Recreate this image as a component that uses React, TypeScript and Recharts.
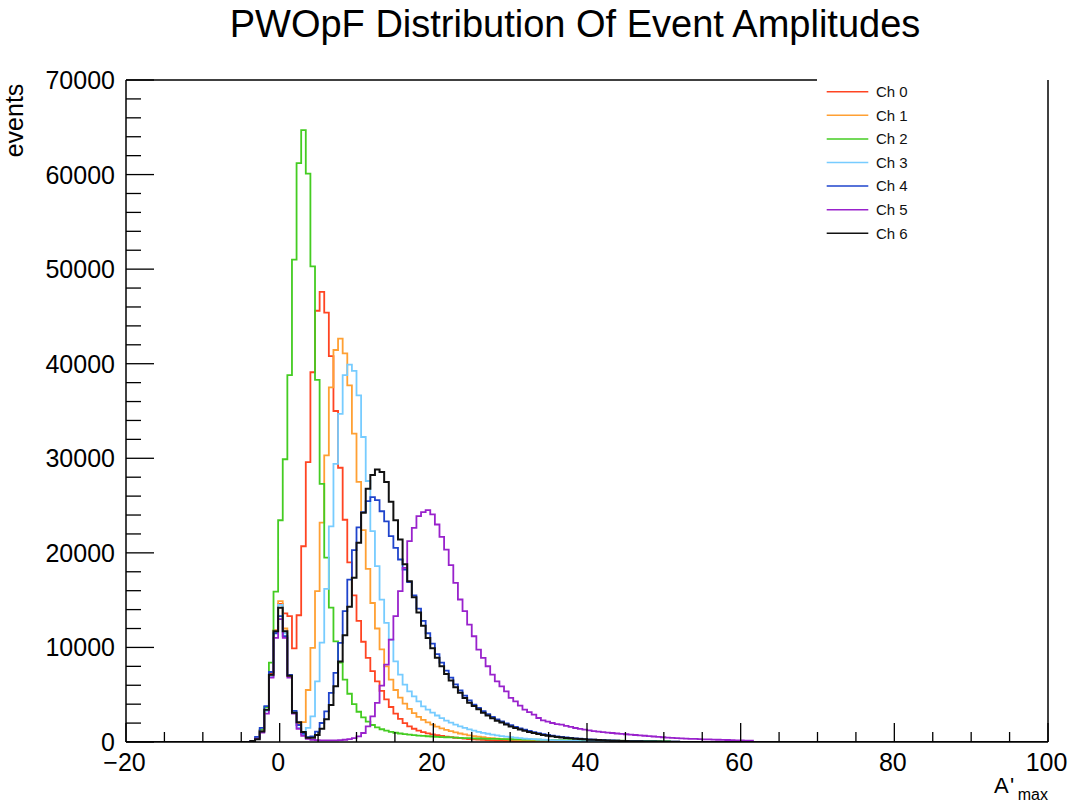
import { LineChart, Line, XAxis, YAxis } from 'recharts';

// histogram binning: 200 bins from -20 to 100
const xMin = -20;
const xMax = 100;
const binWidth = 0.6;
const nBins = 200;
// first bin that holds counts (left edge), the arrays below start there
const firstEdge = -3.8;

const channelNames = ['Ch 0', 'Ch 1', 'Ch 2', 'Ch 3', 'Ch 4', 'Ch 5', 'Ch 6'];
const channelColors = ['#ff4422', '#ffa033', '#44cc22', '#77ccff', '#1f44cc', '#9922cc', '#111111'];

const ch0Counts = [
  50, 350, 1200, 3400, 7200, 11800, 14600, 13600, 13300, 9900,
  13400, 20700, 29600, 39100, 45600, 47600, 45400, 40800, 35000, 29000,
  23500, 19000, 15500, 12800, 10600, 8900, 7500, 6400, 5400, 4500,
  3700, 3000, 2450, 2000, 1650, 1400, 1200, 1050, 920, 810,
  720, 640, 570, 505, 450, 400, 355, 315, 280, 250,
  222, 198, 176, 157, 140, 125, 111, 99, 88, 78,
  70, 62, 55, 49, 44, 39, 35, 31, 28, 25,
  22, 20, 18, 16, 14, 12, 11, 10, 9, 8,
];
const ch1Counts = [
  50, 400, 1200, 3400, 7000, 11800, 14900, 12000, 7000, 3100,
  2000, 2100, 5500, 9950, 15950, 23200, 30300, 37500, 41450, 42650,
  41100, 37700, 32600, 27500, 22400, 18300, 14700, 12000, 9800, 8000,
  6600, 5500, 4700, 4050, 3500, 3050, 2650, 2350, 2080, 1840,
  1630, 1450, 1290, 1150, 1020, 900, 800, 710, 630, 560,
  500, 445, 395, 350, 310, 275, 245, 220, 195, 175,
  155, 140, 125, 110, 100, 90, 80, 72, 64, 57,
  50, 45, 40, 36, 32, 28, 25, 22, 20, 18, 16,
];
const ch2Counts = [
  100, 450, 1300, 3700, 8400, 15900, 23450, 29900, 38800, 51000,
  61200, 64700, 60100, 50300, 38300, 27300, 19500, 14200, 10650, 8400,
  6600, 5100, 4000, 3200, 2600, 2150, 1800, 1550, 1350, 1200,
  1080, 980, 900, 830, 770, 720, 680, 640, 610, 580,
  550, 520, 500, 480, 460, 440, 420, 400, 385, 370,
  355, 340, 330, 320, 310, 300, 290, 280, 270, 262,
  254, 246, 238, 230, 222, 215, 208, 201, 194, 188,
  182, 176, 170, 165, 160, 155, 150, 145, 140, 136,
  132, 128, 124, 120, 116, 112, 108, 105, 102, 99, 96,
];
const ch3Counts = [
  60, 380, 1100, 3300, 6900, 11600, 14500, 11500, 7100, 3100,
  1500, 800, 1500, 2700, 6400, 10500, 16200, 22800, 29400, 34700,
  38800, 39900, 39250, 36650, 32250, 27600, 22300, 18600, 15060, 12600,
  10830, 8530, 7120, 6060, 5360, 4830, 4300, 3770, 3420, 3100,
  2800, 2520, 2270, 2040, 1840, 1660, 1490, 1340, 1200, 1080,
  970, 870, 780, 700, 630, 565, 505, 455, 410, 365,
  330, 295, 265, 240, 215, 195, 175, 155, 140, 125,
  112, 100, 90, 80, 72, 65, 58, 52, 46, 41, 37, 33,
];
const ch4Counts = [
  120, 550, 1500, 3800, 7400, 11500, 13300, 11200, 7100, 3300,
  1800, 900, 500, 600, 1100, 2010, 3240, 5190, 7300, 10480,
  13830, 17180, 20280, 22700, 24300, 25470, 25890, 25570, 24400, 23320,
  21760, 20530, 19300, 18240, 16900, 15500, 14100, 12800, 11500, 10400,
  9300, 8400, 7550, 6800, 6100, 5450, 4900, 4400, 3950, 3600,
  3250, 2950, 2650, 2400, 2180, 1970, 1780, 1600, 1440, 1300,
  1170, 1050, 940, 840, 750, 670, 600, 535, 480, 430,
  385, 345, 310, 278, 250, 222, 198, 176, 158, 142,
  126, 112, 100, 88, 78, 69, 61, 54, 47, 41, 36, 31, 27,
];
const ch5Counts = [
  80, 350, 1000, 3000, 6800, 11000, 13000, 11000, 6800, 3000,
  1400, 650, 320, 230, 200, 180, 170, 170, 180, 200,
  240, 300, 420, 600, 950, 1660, 2720, 4130, 5960, 8190,
  10830, 13300, 15950, 18420, 21240, 22650, 23880, 24300, 24510, 24060,
  23000, 21700, 20350, 18700, 16830, 15070, 13830, 12420, 11180, 9770,
  8890, 8010, 7130, 6420, 5890, 5360, 4660, 4300, 3850, 3420,
  3150, 2890, 2540, 2290, 2150, 2010, 1900, 1835, 1700, 1590,
  1480, 1380, 1300, 1230, 1160, 1100, 1040, 990, 950, 900,
  860, 820, 780, 740, 700, 660, 620, 580, 540, 500,
  470, 440, 410, 385, 360, 340, 320, 300, 285, 270,
  255, 240, 225, 210, 195, 180, 165, 150, 135,
];
const ch6Counts = [
  100, 300, 1120, 3420, 7120, 11700, 14200, 11700, 7000, 3100,
  2100, 1050, 450, 450, 750, 1400, 2400, 3900, 5900, 8500,
  11300, 14300, 17360, 21060, 24240, 26780, 28220, 28820, 28540, 27480,
  25400, 23460, 21410, 18800, 17000, 15300, 13700, 12300, 11000, 9900,
  8900, 8000, 7200, 6500, 5800, 5200, 4650, 4150, 3800, 3450,
  3100, 2800, 2500, 2250, 2050, 1850, 1650, 1480, 1320, 1180,
  1050, 940, 840, 750, 670, 600, 540, 480, 430, 385,
  345, 310, 280, 250, 225, 200, 180, 160, 145, 130,
  115, 100, 90, 80, 70, 62, 55, 48, 42, 37, 32, 28, 24,
];

const channelCounts = [ch0Counts, ch1Counts, ch2Counts, ch3Counts, ch4Counts, ch5Counts, ch6Counts];

const xMajorTicks = [-20, 0, 20, 40, 60, 80, 100];
const xMinorStep = 5;
const yMajorTicks = [0, 10000, 20000, 30000, 40000, 50000, 60000, 70000];
const yMinorStep = 2000;

const xTicks: number[] = [];
for (let v = xMin; v <= xMax; v += xMinorStep) xTicks.push(v);
const yTicks: number[] = [];
for (let v = 0; v <= 70000; v += yMinorStep) yTicks.push(v);

// rows at every bin edge, drawn with stepAfter
const offset = Math.round((firstEdge - xMin) / binWidth);
const rows: any[] = [];
for (let i = 0; i <= nBins; i++) {
  const row: any = { x: Math.round((xMin + i * binWidth) * 10) / 10 };
  const bin = Math.min(i, nBins - 1) - offset;
  channelCounts.forEach((counts, c) => {
    row['ch' + c] = bin >= 0 && bin < counts.length ? counts[bin] : 0;
  });
  rows.push(row);
}

const FONT = '"Liberation Sans", Arial, Helvetica, sans-serif';
const W = 1073;
const H = 804;
const left = 126;
const right = 1048;
const top = 80;
const bottom = 742;

function XTick(props: any) {
  const { x, y, payload } = props;
  const v = payload.value as number;
  const major = xMajorTicks.includes(v);
  return (
    <g>
      <line x1={x} x2={x} y1={y} y2={y - (major ? 19 : 10)} stroke="#000" strokeWidth={1.3} />
      {major && (
        <text x={x - 1.5} y={y + 29} textAnchor="middle" fontSize={25} fontFamily={FONT} fill="#000">
          {v < 0 ? '\u2212' + Math.abs(v) : String(v)}
        </text>
      )}
    </g>
  );
}

function YTick(props: any) {
  const { x, y, payload } = props;
  const v = payload.value as number;
  const major = yMajorTicks.includes(v);
  return (
    <g>
      <line x1={x} x2={x + (major ? 28 : 15)} y1={y} y2={y} stroke="#000" strokeWidth={1.3} />
      {major && (
        <text x={x - 11} y={y + 9} textAnchor="end" fontSize={25} fontFamily={FONT} fill="#000">
          {String(v)}
        </text>
      )}
    </g>
  );
}

export default function App() {
  return (
    <div style={{ position: 'absolute', left: 0, top: 0, width: W, height: H, background: '#fff' }}>
      <LineChart width={W} height={H} data={rows} margin={{ top: top, right: W - right, bottom: 0, left: 0 }}>
        <XAxis
          dataKey="x"
          type="number"
          domain={[xMin, xMax]}
          ticks={xTicks}
          interval={0}
          height={H - bottom}
          tickSize={0}
          tickMargin={0}
          tick={<XTick />}
          axisLine={{ stroke: '#000', strokeWidth: 1.5 }}
          tickLine={false}
          allowDataOverflow
        />
        <YAxis
          type="number"
          domain={[0, 70000]}
          ticks={yTicks}
          interval={0}
          width={left}
          tickSize={0}
          tickMargin={0}
          tick={<YTick />}
          axisLine={{ stroke: '#000', strokeWidth: 1.5 }}
          tickLine={false}
          allowDataOverflow
        />
        {channelNames.map((name, c) => (
          <Line
            key={name}
            name={name}
            dataKey={'ch' + c}
            type="stepAfter"
            stroke={channelColors[c]}
            strokeWidth={c === 6 ? 2 : 1.8}
            dot={false}
            activeDot={false}
            isAnimationActive={false}
          />
        ))}
      </LineChart>
      <svg width={W} height={H} style={{ position: 'absolute', left: 0, top: 0, pointerEvents: 'none' }}>
        <line x1={left} x2={817} y1={top} y2={top} stroke="#000" strokeWidth={1.5} />
        <line x1={right} x2={right} y1={top} y2={bottom} stroke="#000" strokeWidth={1.5} />
        <text x={575} y={37} textAnchor="middle" fontSize={38} fontFamily={FONT} fill="#000">
          PWOpF Distribution Of Event Amplitudes
        </text>
        <text transform="translate(22.7,120.5) rotate(-90)" textAnchor="middle" fontSize={25} fontFamily={FONT} fill="#000">
          events
        </text>
        <text x={994} y={793} fontSize={22} fontFamily={FONT} fill="#000">A</text>
        <text x={1010} y={793} fontSize={22} fontFamily={FONT} fill="#000">'</text>
        <text x={right} y={800} textAnchor="end" fontSize={16} fontFamily={FONT} fill="#000">max</text>
        {channelNames.map((name, c) => {
          const ly = 91.7 + 23.6 * c;
          return (
            <g key={name}>
              <line x1={826.7} x2={868.3} y1={ly} y2={ly} stroke={channelColors[c]} strokeWidth={1.5} />
              <text x={876} y={ly + 5.3} fontSize={15} fontFamily={FONT} fill="#111">
                {name}
              </text>
            </g>
          );
        })}
      </svg>
    </div>
  );
}
